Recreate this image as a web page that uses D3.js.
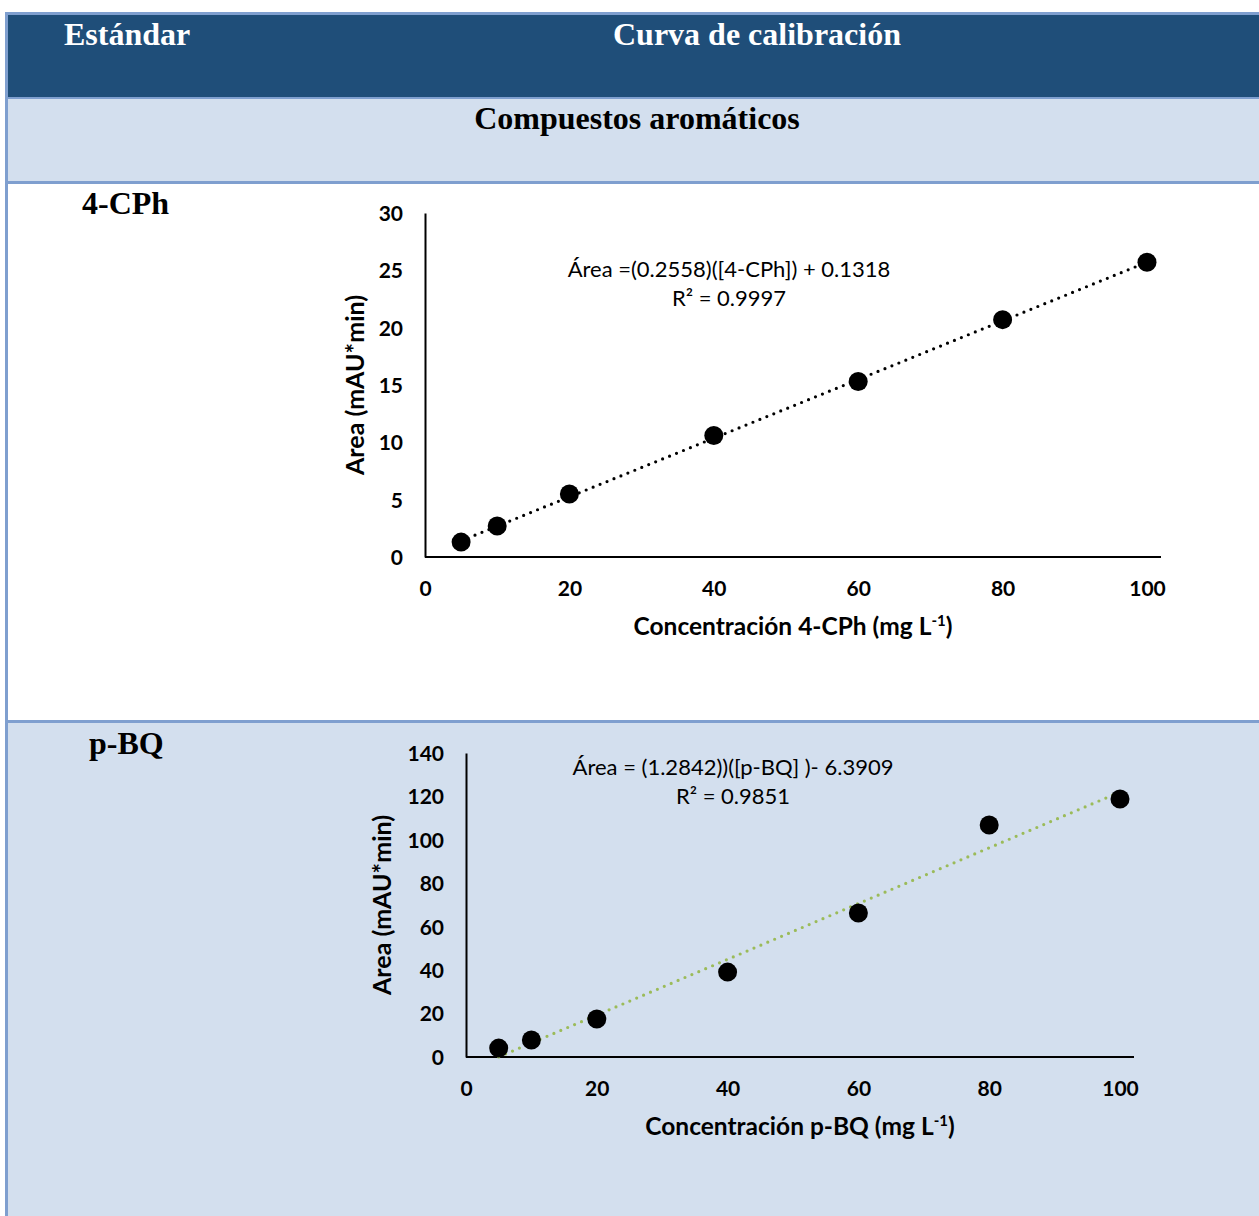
<!DOCTYPE html>
<html>
<head>
<meta charset="utf-8">
<script src="https://cdn.jsdelivr.net/npm/d3@7/dist/d3.min.js"></script>
<style>
  html, body { margin: 0; padding: 0; background: #fff; }
  svg { display: block; }
</style>
</head>
<body>
<svg id="page" width="1259" height="1216"></svg>
<script>
// Calibration standards: concentration (mg/L) and peak area (mAU*min)
const concentrations = [5, 10, 20, 40, 60, 80, 100];
const areaCPh = [1.3, 2.7, 5.5, 10.6, 15.3, 20.7, 25.7];
const areaBQ = [4.1, 7.8, 17.5, 39.1, 66.3, 106.8, 118.8];

// Linear fits reported for each standard
const fitCPh = { slope: 0.2558, intercept: 0.1318 };
const fitBQ = { slope: 1.2842, intercept: -6.3909 };

const ticksX = [0, 20, 40, 60, 80, 100];
const ticksCPh = [0, 5, 10, 15, 20, 25, 30];
const ticksBQ = [0, 20, 40, 60, 80, 100, 120, 140];

const svg = d3.select("#page");
const serif = "'Liberation Serif', 'Times New Roman', serif";
const sans = "Lato, 'Open Sans', sans-serif";

// ---- table frame ----
const border = "#7F9FCF";
const light = "#D3DFEE";
const dark = "#1F4E79";
svg.append("rect").attr("x", 5).attr("y", 12).attr("width", 1254).attr("height", 1204).attr("fill", border);
svg.append("rect").attr("x", 8).attr("y", 15).attr("width", 1251).attr("height", 82).attr("fill", dark);
svg.append("rect").attr("x", 8).attr("y", 99).attr("width", 1251).attr("height", 82).attr("fill", light);
svg.append("rect").attr("x", 8).attr("y", 184).attr("width", 1251).attr("height", 536).attr("fill", "#ffffff");
svg.append("rect").attr("x", 8).attr("y", 723).attr("width", 1251).attr("height", 493).attr("fill", light);

function cellText(x, y, txt, color, anchor) {
  svg.append("text").attr("x", x).attr("y", y).attr("fill", color)
    .attr("text-anchor", anchor || "start")
    .style("font-family", serif).style("font-weight", "bold").style("font-size", "32px")
    .text(txt);
}
cellText(64, 45, "Estándar", "#ffffff");
cellText(757, 45, "Curva de calibración", "#ffffff", "middle");
cellText(637, 129, "Compuestos aromáticos", "#000000", "middle");
cellText(82, 214, "4-CPh", "#000000");
cellText(89, 754, "p-BQ", "#000000");

// ---- scatter with linear trend line ----
function calibrationChart(opt) {
  const x = d3.scaleLinear().domain([0, 100]).range([opt.x0, opt.x100]);
  const y = d3.scaleLinear().domain([0, opt.yMax]).range([opt.yBottom, opt.yTop]);
  const g = svg.append("g");

  const yAxis = d3.axisLeft(y).tickValues(opt.yTicks).tickSize(0).tickPadding(22);
  const gy = g.append("g").attr("transform", `translate(${opt.x0},0)`).call(yAxis);
  gy.select(".domain").attr("stroke", "#000").attr("stroke-width", 2);

  const xAxis = d3.axisBottom(x).tickValues(ticksX).tickSize(0).tickPadding(23);
  const gx = g.append("g").attr("transform", `translate(0,${opt.yBottom})`).call(xAxis);
  gx.select(".domain").attr("stroke", "#000").attr("stroke-width", 2)
    .attr("d", `M${opt.x0},0H${opt.axisEnd}`);

  g.selectAll(".tick text").style("font-family", sans).style("font-weight", "bold")
    .style("font-size", "21px").attr("fill", "#000");
  gy.selectAll(".tick text").attr("dy", "0.35em");
  gx.selectAll(".tick text").attr("dy", "0.75em");

  // trend line from the reported fit
  const xs = [concentrations[0], concentrations[concentrations.length - 1]];
  const line = d3.line().x(d => x(d)).y(d => y(opt.fit.slope * d + opt.fit.intercept));
  g.append("path").datum(xs).attr("d", line).attr("fill", "none")
    .attr("stroke", opt.trendColor).attr("stroke-width", 3.2)
    .attr("stroke-linecap", "round").attr("stroke-dasharray", "0 7.5");

  g.selectAll("circle.pt").data(concentrations.map((c, i) => [c, opt.values[i]]))
    .join("circle").attr("class", "pt")
    .attr("cx", d => x(d[0])).attr("cy", d => y(d[1])).attr("r", 9.5).attr("fill", "#000");

  // equation label
  const eq = g.append("text").attr("text-anchor", "middle")
    .style("font-family", sans).style("font-size", "22px").attr("fill", "#000");
  eq.append("tspan").attr("x", opt.eqX).attr("y", opt.eqY).text(opt.eqText);
  eq.append("tspan").attr("x", opt.eqX).attr("y", opt.eqY + 29).text(opt.r2Text);

  // axis titles
  const xt = g.append("text").attr("x", opt.xTitleX).attr("y", opt.xTitleY).attr("text-anchor", "middle")
    .style("font-family", sans).style("font-weight", "bold").style("font-size", "24.5px").attr("fill", "#000");
  xt.append("tspan").text(opt.xTitle + " (mg L");
  xt.append("tspan").attr("dy", "-9").style("font-size", "15px").text("-1");
  xt.append("tspan").attr("dy", "9").text(")");

  g.append("text").attr("transform", `translate(${opt.yTitleX},${opt.yTitleY}) rotate(-90)`)
    .attr("text-anchor", "middle")
    .style("font-family", sans).style("font-weight", "bold").style("font-size", "25px").attr("fill", "#000")
    .text("Area (mAU*min)");
}

calibrationChart({
  values: areaCPh, fit: fitCPh, yMax: 30, yTicks: ticksCPh,
  x0: 425, x100: 1147, axisEnd: 1161, yBottom: 557, yTop: 213,
  trendColor: "#000000",
  eqText: "Área =(0.2558)([4-CPh]) + 0.1318", r2Text: "R² = 0.9997", eqX: 729, eqY: 277,
  xTitleX: 793, xTitleY: 635, xTitle: "Concentración 4-CPh",
  yTitleX: 364, yTitleY: 385
});

calibrationChart({
  values: areaBQ, fit: fitBQ, yMax: 140, yTicks: ticksBQ,
  x0: 466, x100: 1120, axisEnd: 1134, yBottom: 1057, yTop: 753,
  trendColor: "#9BBB59",
  eqText: "Área = (1.2842))([p-BQ] )- 6.3909", r2Text: "R² = 0.9851", eqX: 733, eqY: 775,
  xTitleX: 800, xTitleY: 1135, xTitle: "Concentración p-BQ",
  yTitleX: 391, yTitleY: 905
});
</script>
</body>
</html>
